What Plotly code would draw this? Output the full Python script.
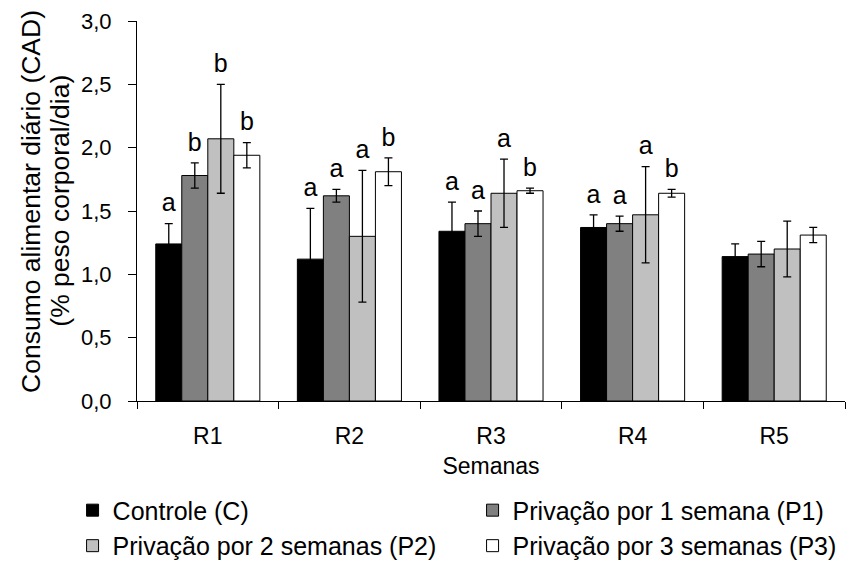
import plotly.graph_objects as go

categories = ["R1", "R2", "R3", "R4", "R5"]
series_names = ["Controle (C)", "Privação por 1 semana (P1)",
                "Privação por 2 semanas (P2)", "Privação por 3 semanas (P3)"]
controle = [1.24, 1.12, 1.34, 1.37, 1.14]
p1 = [1.78, 1.62, 1.40, 1.40, 1.16]
p2 = [2.07, 1.30, 1.64, 1.47, 1.20]
p3 = [1.94, 1.81, 1.66, 1.64, 1.31]
err_c = [0.16, 0.40, 0.23, 0.10, 0.10]
err_p1 = [0.10, 0.05, 0.10, 0.06, 0.10]
err_p2 = [0.43, 0.52, 0.27, 0.38, 0.22]
err_p3 = [0.10, 0.11, 0.02, 0.03, 0.06]
letters_c = ["a", "a", "a", "a", ""]
letters_p1 = ["b", "a", "a", "a", ""]
letters_p2 = ["b", "a", "a", "a", ""]
letters_p3 = ["b", "b", "b", "b", ""]
y_title_lines = ["Consumo alimentar diário (CAD)", "(% peso corporal/dia)"]

values = [controle, p1, p2, p3]
errors = [err_c, err_p1, err_p2, err_p3]
letters = [letters_c, letters_p1, letters_p2, letters_p3]
colors = ["#000000", "#808080", "#C0C0C0", "#FFFFFF"]
groups = ["C", "P1", "P2", "P3"]

FONT = "Liberation Sans, Arial, sans-serif"

fig = go.Figure()
for name, vals, errs, col, g in zip(series_names, values, errors, colors, groups):
    fig.add_trace(go.Bar(
        x=categories, y=vals, name=name, offsetgroup=g,
        marker=dict(color=col, line=dict(color="#000000", width=1)),
        error_y=dict(type="data", array=errs, visible=True,
                     color="#000000", thickness=1.3, width=4),
    ))

for vals, errs, lets, g in zip(values, errors, letters, groups):
    fig.add_trace(go.Scatter(
        x=categories, y=[v + e for v, e in zip(vals, errs)],
        text=lets, mode="markers+text", textposition="top center",
        marker=dict(size=8, color="rgba(0,0,0,0)"),
        textfont=dict(family=FONT, size=25, color="#000000"),
        offsetgroup=g, showlegend=False, hoverinfo="skip",
    ))

for i, line in enumerate(y_title_lines):
    fig.add_annotation(
        text=line, xref="paper", yref="paper",
        x=[-0.150, -0.108][i], y=0.526, xanchor="center", yanchor="middle",
        textangle=-90, showarrow=False,
        font=dict(family=FONT, size=26.5, color="#000000"),
    )

fig.update_layout(
    width=854, height=557,
    margin=dict(l=129, r=17, t=13, b=164, autoexpand=False),
    paper_bgcolor="white", plot_bgcolor="white",
    barmode="group", bargap=0.265, bargroupgap=0,
    scattermode="group", scattergap=0.265,
    separators=",.",
    font=dict(family=FONT, size=22, color="#000000"),
    showlegend=True,
    legend=dict(orientation="h", x=-0.091, xanchor="left", y=-0.2274, yanchor="top",
                entrywidth=355, entrywidthmode="pixels",
                font=dict(family=FONT, size=25, color="#000000"),
                traceorder="normal", tracegroupgap=0, itemwidth=30),
)
fig.update_xaxes(
    type="category", showline=True, linecolor="#000000", linewidth=1,
    ticks="outside", tickson="boundaries", ticklen=7, tickcolor="#000000",
    showgrid=False, zeroline=False, automargin=False,
    ticklabelstandoff=14,
    title=dict(text="Semanas", font=dict(family=FONT, size=23), standoff=10),
    tickfont=dict(family=FONT, size=23),
)
fig.update_yaxes(
    range=[0, 3], dtick=0.5, tickformat=".1f",
    showline=True, linecolor="#000000", linewidth=1,
    ticks="outside", ticklen=8, tickcolor="#000000",
    showgrid=False, zeroline=False, automargin=False,
    ticklabelstandoff=12, ticklabeloverflow="allow",
    tickfont=dict(family=FONT, size=22),
)

fig.write_html("out.html")
